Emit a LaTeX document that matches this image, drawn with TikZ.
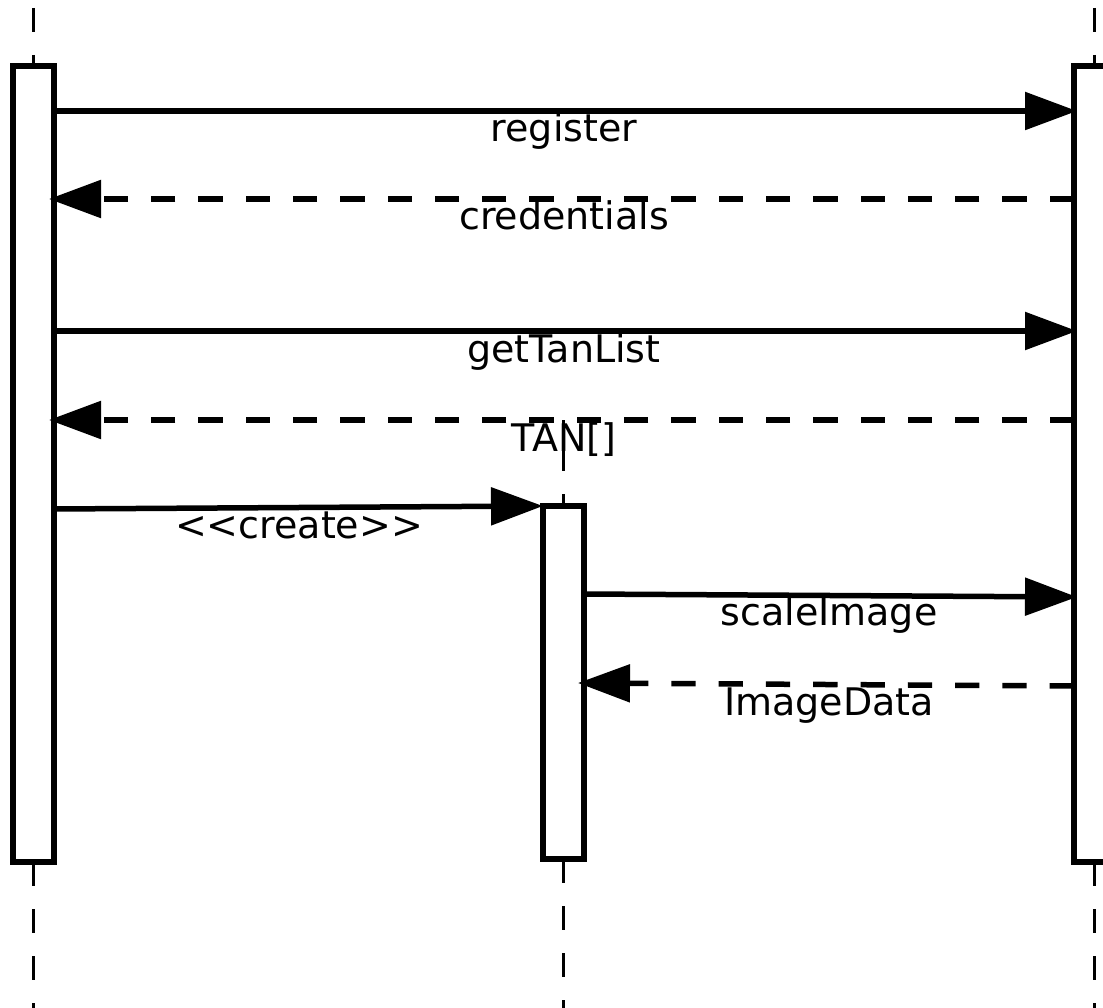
\documentclass[tikz,border=0pt]{standalone}
\usepackage{fontspec}
\setmainfont{DejaVu Sans}
\usetikzlibrary{arrows.meta,calc}
\begin{document}
\begin{tikzpicture}[x=1pt,y=-1pt,
  act/.style={draw, line width=5.5pt, rectangle, minimum width=41pt, inner sep=0pt, outer sep=0pt, fill=white},
  life/.style={line width=3pt, dash pattern=on 24pt off 23pt},
  msg/.style={line width=5.5pt, -{Triangle[length=52pt,width=37pt]}},
  reply/.style={msg, dash pattern=on 24.3pt off 23pt},
  lbl/.style={font=\fontsize{38}{45}\selectfont, anchor=base, inner sep=0pt}]
\useasboundingbox (0,0) rectangle (1103,1008);
\clip (0,0) rectangle (1103,1008);
% activation boxes
\node[act, minimum height=796pt] (L) at (33.5,464) {};
\node[act, minimum height=796pt] (R) at (1094.5,464) {};
\node[act, minimum height=353pt] (M) at (563.5,682.5) {};
% lifeline ends
\coordinate (Ltop) at (33.5,8);
\coordinate (Lbot) at (33.5,1012);
\coordinate (Rtop) at (1094.5,8);
\coordinate (Rbot) at (1094.5,1012);
\coordinate (Mtop) at (563.5,420);
\coordinate (Mbot) at (563.5,1012);
% lifelines
\draw[life] (Ltop) -- (L.north);
\draw[life] (L.south) -- (Lbot);
\draw[life] (Rtop) -- (R.north);
\draw[life] (R.south) -- (Rbot);
\draw[life, dash phase=20pt] (Mtop) -- (M.north);
\draw[life] (M.south) -- (Mbot);
% messages
\draw[msg] (L.east |- 0,111) -- ($(R.west |- 0,111)+(3,0)$);
\node[lbl] (t1) at (564,142) {register};
\draw[reply] (R.west |- 0,199) -- ($(L.east |- 0,199)+(-5,0)$);
\node[lbl] (t2) at (564,230) {credentials};
\draw[msg] (L.east |- 0,331) -- ($(R.west |- 0,331)+(3,0)$);
\node[lbl] (t3) at (564,362) {getTanList};
\draw[reply] (R.west |- 0,420) -- ($(L.east |- 0,420)+(-5,0)$);
\node[lbl] (t4) at (564,451) {TAN[]};
\draw[msg] (L.east |- 0,509) -- (M.north west);
\node[lbl] (t5) at (299,538) {<{}<create>{}>};
\draw[msg] (M.east |- 0,594) -- ($(R.west |- 0,597)+(3,0)$);
\node[lbl] (t6) at (829,625) {scaleImage};
\draw[reply] (R.west |- 0,686) -- ($(M.east |- 0,683)+(-6,0)$);
\node[lbl] (t7) at (829,715) {ImageData};
\end{tikzpicture}
\end{document}
